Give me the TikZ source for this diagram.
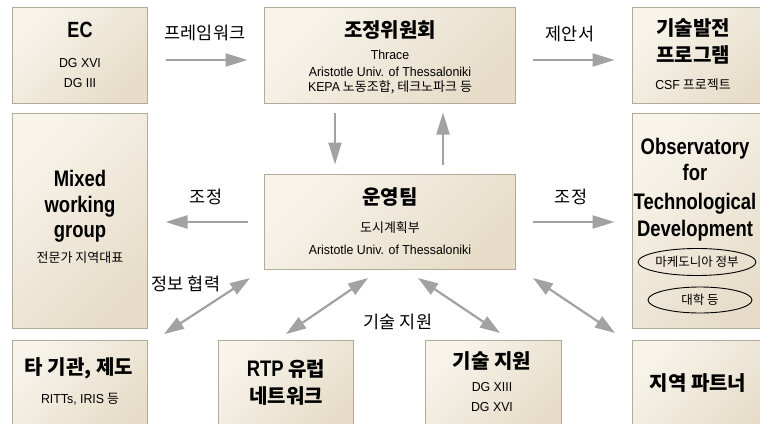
\documentclass[tikz,border=0pt]{standalone}
\usepackage{fontspec}
\setmainfont{Liberation Sans}
\newfontfamily\kr{Noto Sans CJK KR}
\newfontfamily\latc{Liberation Sans}[FakeStretch=0.82]
\newfontfamily\la{Liberation Sans}[FakeStretch=0.95]
\usetikzlibrary{arrows.meta,shapes.geometric,calc}
\definecolor{boxhi}{HTML}{F8F4EB}
\definecolor{boxlo}{HTML}{E6DCC8}
\definecolor{boxline}{HTML}{B3AA97}
\definecolor{arrgray}{HTML}{A2A2A2}
\tikzset{
  box/.style={draw=boxline, line width=1pt, inner sep=0pt, top color=boxhi, bottom color=boxlo, shading angle=45},
  tla/.style={inner sep=0pt, text height=16.4pt, text depth=0pt, font=\latc\bfseries\fontsize{22.5}{22.5}\selectfont},
  tec/.style={inner sep=0pt, text height=15.5pt, text depth=0pt, font=\latc\bfseries\fontsize{22}{22}\selectfont},
  tkr/.style={inner sep=0pt, text height=14.8pt, text depth=0pt, font=\kr\bfseries\fontsize{20}{20}\selectfont},
  sla/.style={inner sep=0pt, text height=9.4pt, text depth=0pt, font=\la\fontsize{13}{13}\selectfont},
  skr/.style={inner sep=0pt, text height=9.6pt, text depth=0pt, font=\kr\fontsize{13}{13}\selectfont},
  ekr/.style={inner sep=0pt, text height=13pt, text depth=0pt, font=\kr\fontsize{17.5}{17.5}\selectfont},
  ell/.style={draw=black, line width=0.9pt, ellipse, inner sep=0pt, font=\kr\fontsize{12.5}{12.5}\selectfont},
  arr/.style={draw=arrgray, line width=2.2pt, -{Triangle[length=22pt,width=13pt]}},
  darr/.style={draw=arrgray, line width=2.2pt, {Triangle[length=20pt,width=13pt]}-{Triangle[length=20pt,width=13pt]}}
}
\begin{document}
\begin{tikzpicture}[x=1pt,y=-1pt]
\useasboundingbox (0,0) rectangle (760,423);
\fill[white] (0,0) rectangle (760,423);

% boxes
\node[box, minimum width=135pt, minimum height=96pt] (ec) at (79.5,55) {};
\node[box, minimum width=251pt, minimum height=96pt] (coord) at (389.5,55) {};
\node[box, minimum width=143pt, minimum height=96pt] (tech) at (703.5,55) {};
\node[box, minimum width=135pt, minimum height=215pt] (mixed) at (79.5,220.5) {};
\node[box, minimum width=251pt, minimum height=95pt] (ops) at (389.5,221.5) {};
\node[box, minimum width=143pt, minimum height=215pt] (obs) at (703.5,220.5) {};
\node[box, minimum width=135pt, minimum height=95pt] (other) at (79.5,387.5) {};
\node[box, minimum width=135pt, minimum height=95pt] (rtp) at (285.5,387.5) {};
\node[box, minimum width=136pt, minimum height=95pt] (tsup) at (493,387.5) {};
\node[box, minimum width=143pt, minimum height=95pt] (partner) at (703.5,387.5) {};

% EC
\node[tec] (ecT) at (80,30) {EC};
\node[sla] (ec1) at (80,63) {DG XVI};
\node[sla] (ec2) at (80,83) {DG III};

% coordination committee
\node[tkr] (coT) at (390,30) {조정위원회};
\node[sla] (co1) at (390,55) {Thrace};
\node[sla] (co2) at (390,72) {Aristotle Univ. of Thessaloniki};
\node[skr] (co3) at (390,87) {{\la KEPA} 노동조합, 테크노파크 등};

% tech program
\node[tkr] (teT1) at (693,28) {기술발전};
\node[tkr] (teT2) at (693,55) {프로그램};
\node[skr] (te1) at (693,85) {{\la CSF} 프로젝트};

% mixed working group
\node[tla] (miT1) at (80,178) {Mixed};
\node[tla] (miT2) at (80,204) {working};
\node[tla] (miT3) at (80,229) {group};
\node[skr] (mi1) at (80,258) {전문가 지역대표};

% operating team
\node[tkr] (opT) at (390,197) {운영팀};
\node[skr] (op1) at (390,228) {도시계획부};
\node[sla] (op2) at (390,250) {Aristotle Univ. of Thessaloniki};

% observatory
\node[tla] (obT1) at (695,146) {Observatory};
\node[tla] (obT2) at (695,172) {for};
\node[tla] (obT3) at (695,201) {Technological};
\node[tla] (obT4) at (695,228) {Development};
\node[ell, minimum width=94pt, minimum height=27pt] (ob1) at (697,262) {마케도니아 정부};
\node[ell, minimum width=104pt, minimum height=26pt] (ob2) at (700,300) {대학 등};

% bottom row
\node[tkr] (otT) at (79,367) {타 기관, 제도};
\node[skr] (ot1) at (80,399) {{\la RITTs, IRIS} 등};
\node[tkr] (rtT1) at (286,369) {{\latc\fontsize{22.5}{22.5}\selectfont RTP} 유럽};
\node[tkr] (rtT2) at (286,396) {네트워크};
\node[tkr] (tsT) at (492,361) {기술 지원};
\node[sla] (ts1) at (492,387) {DG XIII};
\node[sla] (ts2) at (492,407) {DG XVI};
\node[tkr] (paT) at (698,383) {지역 파트너};

% edge labels
\node[ekr] (l1) at (205,33) {프레임워크};
\node[ekr] (l2) at (570,34) {제안서};
\node[ekr] (l3) at (206,197) {조정};
\node[ekr] (l4) at (571,197) {조정};
\node[ekr] (l5) at (186,284) {정보 협력};
\node[ekr] (l6) at (398,322) {기술 지원};

% straight arrows
\draw[arr] (ec.east |- 0,60) ++(18,0) -- ($(coord.west |- 0,60)+(-16,0)$);
\draw[arr] (coord.east |- 0,60) ++(17,0) -- ($(tech.west |- 0,60)+(-17,0)$);
\draw[arr] (ops.west |- 0,222) ++(-16,0) -- ($(mixed.east |- 0,222)+(18,0)$);
\draw[arr] (ops.east |- 0,222) ++(17,0) -- ($(obs.west |- 0,222)+(-17,0)$);
\draw[arr] (coord.south -| 335,0) ++(0,9) -- ($(ops.north -| 335,0)+(0,-9)$);
\draw[arr] (ops.north -| 443,0) ++(0,-9) -- ($(coord.south -| 443,0)+(0,9)$);

% diagonal two-headed arrows
\coordinate (d1a) at (250,278);
\coordinate (d1b) at (164,334);
\coordinate (d2a) at (368,278);
\coordinate (d2b) at (286,334);
\coordinate (d3a) at (418,278);
\coordinate (d3b) at (500,333);
\coordinate (d4a) at (533,278);
\coordinate (d4b) at (615,333);
\draw[darr] (d1a) -- (d1b);
\draw[darr] (d2a) -- (d2b);
\draw[darr] (d3a) -- (d3b);
\draw[darr] (d4a) -- (d4b);
\end{tikzpicture}
\end{document}
